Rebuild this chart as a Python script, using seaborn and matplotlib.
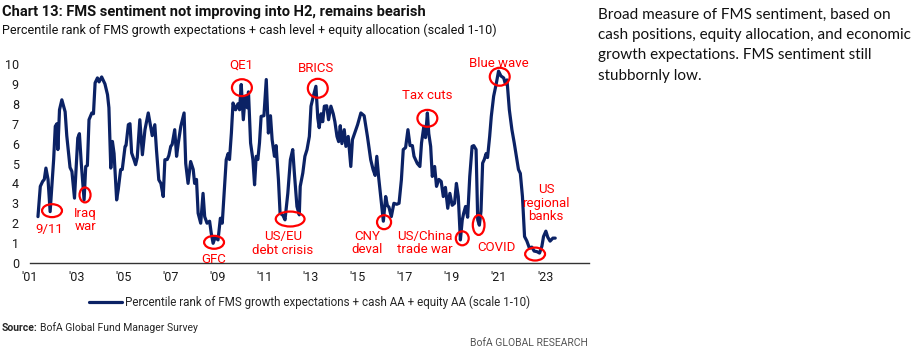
import numpy as np
import pandas as pd
import seaborn as sns
import matplotlib
matplotlib.use("Agg")
import matplotlib.pyplot as plt
from matplotlib.patches import Ellipse
from matplotlib import font_manager

# FMS sentiment (percentile rank, scaled 1-10)
years = [
    2001.34, 2001.44, 2001.54, 2001.61, 2001.68, 2001.77, 2001.86, 2002.01, 2002.08, 2002.15,
    2002.19, 2002.26, 2002.36, 2002.43, 2002.50, 2002.57, 2002.71, 2002.79, 2002.90, 2002.98,
    2003.04, 2003.11, 2003.19, 2003.31, 2003.38, 2003.45, 2003.52, 2003.64, 2003.71, 2003.78,
    2003.88, 2003.95, 2004.06, 2004.20, 2004.31, 2004.37, 2004.45, 2004.52, 2004.59, 2004.70,
    2004.77, 2004.87, 2004.94, 2005.06, 2005.10, 2005.20, 2005.27, 2005.34, 2005.44, 2005.51,
    2005.58, 2005.69, 2005.80,
    2005.91, 2006.05, 2006.15, 2006.22, 2006.33, 2006.40, 2006.50, 2006.59, 2006.69, 2006.76,
    2006.86, 2006.93, 2007.01, 2007.07, 2007.18, 2007.26, 2007.33, 2007.44, 2007.58, 2007.65,
    2007.75, 2007.86, 2007.97, 2008.03, 2008.11, 2008.18, 2008.29, 2008.39, 2008.46, 2008.56,
    2008.67, 2008.74, 2008.82, 2008.91, 2009.03, 2009.13, 2009.21, 2009.31, 2009.38, 2009.46,
    2009.52, 2009.60, 2009.67, 2009.78, 2009.88, 2009.95, 2010.02, 2010.11, 2010.19, 2010.28,
    2010.33, 2010.42, 2010.52, 2010.59, 2010.66, 2010.73, 2010.80, 2010.87, 2010.99, 2011.09,
    2011.18, 2011.27, 2011.34, 2011.44, 2011.51, 2011.61, 2011.68, 2011.80, 2011.89, 2012.01,
    2012.12, 2012.22, 2012.29, 2012.40, 2012.50, 2012.54, 2012.65, 2012.74, 2012.83, 2012.93,
    2013.00, 2013.10, 2013.21, 2013.29, 2013.35, 2013.43, 2013.50, 2013.57, 2013.67, 2013.75,
    2013.85, 2013.95, 2014.02, 2014.11, 2014.18, 2014.25, 2014.32, 2014.42, 2014.49, 2014.59,
    2014.70, 2014.77, 2014.89, 2014.99, 2015.13, 2015.27, 2015.41, 2015.55, 2015.65, 2015.74,
    2015.81, 2015.89, 2016.01, 2016.09, 2016.19, 2016.26, 2016.33, 2016.43, 2016.54, 2016.66,
    2016.76, 2016.86, 2016.94, 2017.04, 2017.14, 2017.23, 2017.33, 2017.40, 2017.54, 2017.65,
    2017.72, 2017.82, 2017.89, 2017.97, 2018.03, 2018.11, 2018.18, 2018.28, 2018.36, 2018.46,
    2018.56, 2018.65, 2018.74, 2018.84, 2018.93, 2019.03, 2019.13, 2019.21, 2019.29, 2019.38,
    2019.46, 2019.52, 2019.60, 2019.69, 2019.78, 2019.88, 2019.95, 2020.05, 2020.12, 2020.19,
    2020.26, 2020.33, 2020.40, 2020.48, 2020.54, 2020.63, 2020.70, 2020.80, 2020.91, 2021.01,
    2021.11, 2021.23, 2021.30, 2021.37, 2021.47, 2021.58, 2021.68, 2021.77, 2021.86, 2021.94,
    2022.03, 2022.12, 2022.22, 2022.33, 2022.43, 2022.53, 2022.65, 2022.76, 2022.86, 2022.93,
    2023.03, 2023.11, 2023.21, 2023.33, 2023.43,
]
sentiment = [
    2.33, 3.85, 4.10, 4.20, 4.77, 4.20, 2.58, 5.20, 6.87, 7.00,
    5.70, 7.70, 8.20, 7.90, 7.60, 6.40, 4.80, 4.60, 3.26, 5.00,
    6.28, 6.50, 5.00, 3.17, 4.85, 4.90, 7.20, 7.54, 7.50, 9.05,
    9.30, 9.10, 9.35, 9.00, 8.46, 7.80, 4.77, 6.11, 5.50, 3.17,
    3.70, 4.69, 4.70, 5.86, 5.90, 6.95, 7.00, 5.53, 5.20, 4.94,
    5.30, 7.20, 5.44,
    6.70, 7.54, 6.87, 6.40, 6.95, 5.70, 4.18, 4.00, 3.34, 5.19,
    5.20, 5.40, 5.86, 5.95, 6.70, 5.36, 6.00, 6.87, 7.54, 5.00,
    4.00, 5.10, 4.70, 4.00, 4.20, 2.50, 2.00, 3.50, 2.33, 2.00,
    2.10, 1.50, 0.99, 1.30, 1.16, 2.25, 2.00, 3.85, 5.19, 5.50,
    5.20, 6.53, 8.04, 7.70, 8.00, 7.70, 8.97, 7.20, 8.38, 7.80,
    8.60, 6.03, 5.19, 3.93, 5.36, 5.20, 6.03, 7.37, 7.40, 9.22,
    6.53, 7.40, 6.20, 5.36, 5.90, 4.18, 2.50, 2.40, 2.17, 3.50,
    5.19, 5.70, 4.52, 2.84, 2.42, 3.85, 4.52, 5.36, 5.70, 6.36,
    7.88, 8.38, 8.88, 7.29, 6.80, 7.50, 7.10, 7.88, 7.90, 7.20,
    7.88, 7.50, 7.10, 6.36, 6.10, 6.90, 6.00, 6.70, 5.86, 6.36,
    4.85, 6.20, 6.60, 6.95, 7.54, 7.40, 6.36, 5.19, 4.70, 4.40,
    5.36, 4.30, 3.00, 2.10, 3.34, 2.90, 2.80, 2.33, 3.00, 2.95,
    3.00, 4.18, 5.70, 5.80, 6.70, 5.90, 5.90, 5.36, 5.00, 4.85,
    6.03, 6.87, 6.30, 7.54, 6.50, 5.86, 4.35, 4.85, 3.85, 4.20,
    4.10, 3.34, 3.80, 2.75, 3.50, 2.90, 3.00, 4.00, 3.34, 1.16,
    2.16, 2.50, 2.84, 2.30, 4.35, 5.86, 5.90, 5.70, 2.17, 1.90,
    2.60, 5.02, 5.20, 5.50, 5.30, 6.36, 7.37, 8.38, 9.00, 9.64,
    9.40, 9.30, 9.00, 9.20, 7.70, 6.70, 6.03, 5.36, 4.70, 4.50,
    3.34, 1.33, 1.10, 0.74, 0.80, 0.60, 0.57, 0.50, 0.84, 1.33,
    1.60, 1.30, 1.10, 1.25, 1.25,
]

tick_years = list(range(2001, 2024, 2))
tick_labels = ["'01", "'03", "'05", "'07", "'09", "'11", "'13", "'15", "'17", "'19", "'21", "'23"]

# event annotations: label, text position, circle centre, circle size (years, units)
event_labels = ["9/11", "Iraq\nwar", "GFC", "QE1", "US/EU\ndebt crisis", "BRICS",
                "CNY\ndeval", "Tax cuts", "US/China\ntrade war", "COVID", "Blue wave",
                "US\nregional\nbanks"]
event_text_x = [2001.84, 2003.36, 2008.84, 2010.02, 2011.80, 2013.20,
                2015.38, 2017.98, 2017.85, 2020.90, 2021.04, 2023.04]
event_text_y = [1.69, 2.16, 0.20, 9.95, 0.97, 9.78, 1.00, 8.44, 1.00, 0.79, 10.03, 3.00]
circle_x = [2001.94, 2003.35, 2008.86, 2010.05, 2012.11, 2013.29,
            2016.12, 2017.97, 2019.46, 2020.16, 2021.06, 2022.57]
circle_y = [2.63, 3.42, 1.04, 8.81, 2.21, 8.78, 2.05, 7.27, 1.24, 1.91, 9.36, 0.45]
circle_w = [0.85, 0.47, 0.85, 0.85, 1.23, 0.85, 0.60, 0.85, 0.55, 0.50, 0.85, 0.85]
circle_h = [0.65, 0.75, 0.65, 0.85, 0.75, 0.95, 0.70, 0.85, 0.70, 1.00, 0.90, 0.65]

navy = "#0b2265"
red = "#ff0000"

sns.set_style("white")
installed = {f.name for f in font_manager.fontManager.ttflist}
narrow = "Liberation Sans Narrow" if "Liberation Sans Narrow" in installed else "Roboto"
plt.rcParams["font.family"] = [narrow, "DejaVu Sans"]

df = pd.DataFrame({"year": years, "value": sentiment})

fig = plt.figure(figsize=(9.17, 3.51), dpi=100)
ax = fig.add_axes([30 / 917, 88 / 351, 559 / 917, 199 / 351])

sns.lineplot(data=df, x="year", y="value", ax=ax, color=navy, linewidth=2.3,
             estimator=None, sort=False,
             label="Percentile rank of FMS growth expectations + cash AA + equity AA (scale 1-10)")

for i in range(len(event_labels)):
    ax.add_patch(Ellipse((circle_x[i], circle_y[i]), circle_w[i], circle_h[i],
                         fill=False, edgecolor=red, linewidth=1.6, clip_on=False, zorder=4))
    ax.text(event_text_x[i], event_text_y[i], event_labels[i], color=red, fontsize=9.5,
            ha="center", va="center", linespacing=1.05, zorder=5)

x0 = 2001 + (30 - 28) / 23.5
x1 = 2001 + (589 - 28) / 23.5
ax.set_xlim(x0, x1)
ax.set_ylim(0, 10)
ax.set_xticks(tick_years)
ax.set_xticklabels(tick_labels)
ax.set_yticks(range(0, 11))
ax.tick_params(axis="both", length=0, labelsize=9, colors="#1a1a1a")
ax.tick_params(axis="y", pad=8)
ax.tick_params(axis="x", pad=6)
ax.set_xlabel("")
ax.set_ylabel("")
for side in ["top", "right", "left"]:
    ax.spines[side].set_visible(False)
ax.spines["bottom"].set_color("#333333")
ax.spines["bottom"].set_linewidth(1.0)

ax.legend(loc="center", bbox_to_anchor=(0.5, (351 - 302.7 - 88) / 199), frameon=False,
          fontsize=8.4, handlelength=2.8, handletextpad=0.3)

fig.text(2 / 917, 1 - 12 / 351, "Chart 13: FMS sentiment not improving into H2, remains bearish",
         fontsize=10.5, fontweight="bold", va="center", ha="left", color="#111111")
fig.text(2 / 917, 1 - 30 / 351,
         "Percentile rank of FMS growth expectations + cash level + equity allocation (scaled 1-10)",
         fontsize=9, va="center", ha="left", color="#111111")
fig.text(2 / 917, 1 - 328 / 351, "Source:", fontsize=7.5, fontweight="bold", va="center", ha="left")
fig.text(40 / 917, 1 - 328 / 351, "BofA Global Fund Manager Survey", fontsize=7.5, va="center", ha="left")
fig.text(588 / 917, 1 - 343 / 351, "BofA GLOBAL RESEARCH", fontsize=7.5, va="center", ha="right",
         color="#555555")

side_lines = ["Broad measure of FMS sentiment, based on",
              "cash positions, equity allocation, and economic",
              "growth expectations. FMS sentiment still",
              "stubbornly low."]
side_y = [14.5, 35, 55.5, 76]
for line, yy in zip(side_lines, side_y):
    fig.text(598 / 917, 1 - yy / 351, line, fontsize=11, va="center", ha="left",
             family=["Lato", "DejaVu Sans"], color="#111111")

fig.savefig("out.png", dpi=100)
